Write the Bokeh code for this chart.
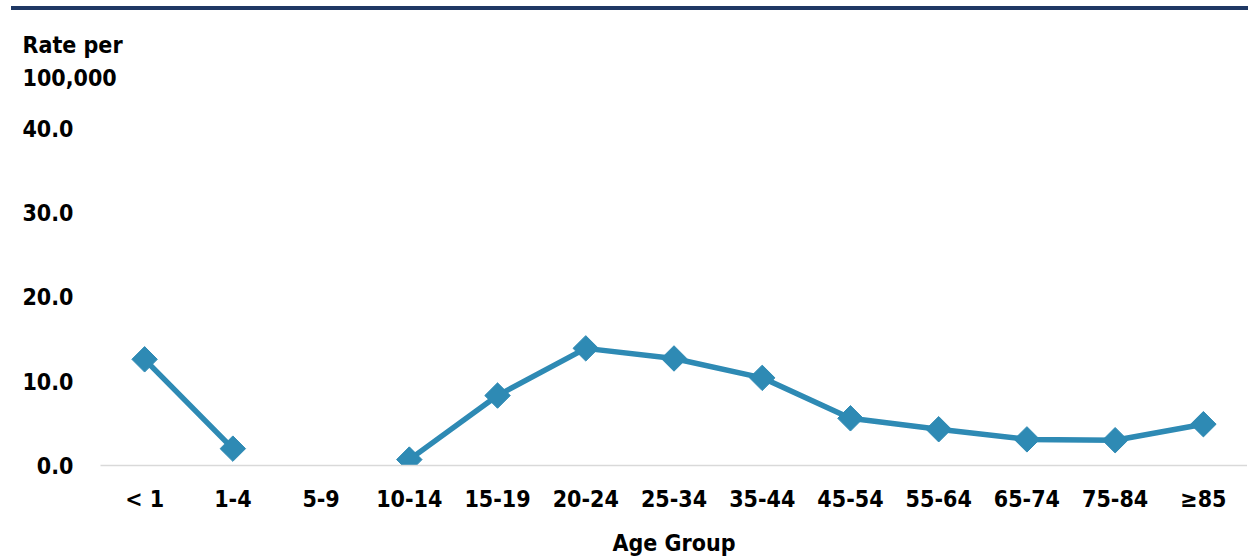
import numpy as np
from bokeh.plotting import figure
from bokeh.models import ColumnDataSource, FactorRange, Title, Div
from bokeh.layouts import column
from bokeh.embed import file_html
from bokeh.resources import INLINE

categories = ["< 1", "1-4", "5-9", "10-14", "15-19", "20-24", "25-34", "35-44",
              "45-54", "55-64", "65-74", "75-84", "\u226585"]
rates = [12.6, 2.0, None, 0.7, 8.3, 13.9, 12.7, 10.4, 5.6, 4.3, 3.1, 3.0, 4.9]
y_ticks = [0, 10, 20, 30, 40]
y_title_lines = ["Rate per", "100,000"]
x_title = "Age Group"

FONT = "Liberation Sans Narrow, DejaVu Sans Condensed, sans-serif"
LINE_COLOR = "#2E8AB4"
NAVY = "#1F3864"

y_vals = [np.nan if v is None else v for v in rates]
src = ColumnDataSource(dict(x=categories, y=y_vals))

p = figure(frame_width=1147, frame_height=375,
           x_range=FactorRange(*categories, range_padding=0),
           y_range=(0, 44.5), output_backend="svg", toolbar_location=None,
           min_border_left=100, min_border_right=0, min_border_top=80,
           min_border_bottom=85)
p.outline_line_color = None
p.xgrid.grid_line_color = None
p.ygrid.grid_line_color = None

p.line("x", "y", source=src, line_color=LINE_COLOR, line_width=5.5)
p.scatter("x", "y", source=src, marker="square", size=18, angle=np.pi / 4,
          fill_color=LINE_COLOR, line_color=LINE_COLOR)

# axes
p.yaxis.ticker = y_ticks
p.yaxis.major_label_overrides = {t: f"{t:.1f}" for t in y_ticks}
p.yaxis.axis_line_color = None
p.yaxis.major_tick_line_color = None
p.yaxis.minor_tick_line_color = None
p.yaxis.major_label_standoff = 21
p.yaxis.major_label_text_font = FONT
p.yaxis.major_label_text_font_style = "bold"
p.yaxis.major_label_text_font_size = "23px"
p.yaxis.major_label_text_color = "#000000"

p.xaxis.axis_line_color = "#D9D9D9"
p.xaxis.axis_line_width = 1.5
p.xaxis.major_tick_line_color = None
p.xaxis.minor_tick_line_color = None
p.xaxis.major_label_standoff = 14
p.xaxis.major_label_text_font = FONT
p.xaxis.major_label_text_font_style = "bold"
p.xaxis.major_label_text_font_size = "23px"
p.xaxis.major_label_text_color = "#000000"
p.xaxis.axis_label = x_title
p.xaxis.axis_label_text_font = FONT
p.xaxis.axis_label_text_font_style = "bold"
p.xaxis.axis_label_text_font_size = "23px"
p.xaxis.axis_label_text_color = "#000000"
p.xaxis.axis_label_standoff = 15

# y title (two lines) above the frame, at the left
for txt in reversed(y_title_lines):
    p.add_layout(Title(text=txt, align="left", offset=-78, standoff=9,
                       text_font=FONT, text_font_style="bold",
                       text_font_size="23px", text_color="#000000"), "above")

rule = Div(width=1237, height=4, margin=(6, 0, 0, 11),
           styles={"background-color": NAVY})

layout = column(rule, p, spacing=0)
open("out.html", "w").write(file_html(layout, INLINE))
